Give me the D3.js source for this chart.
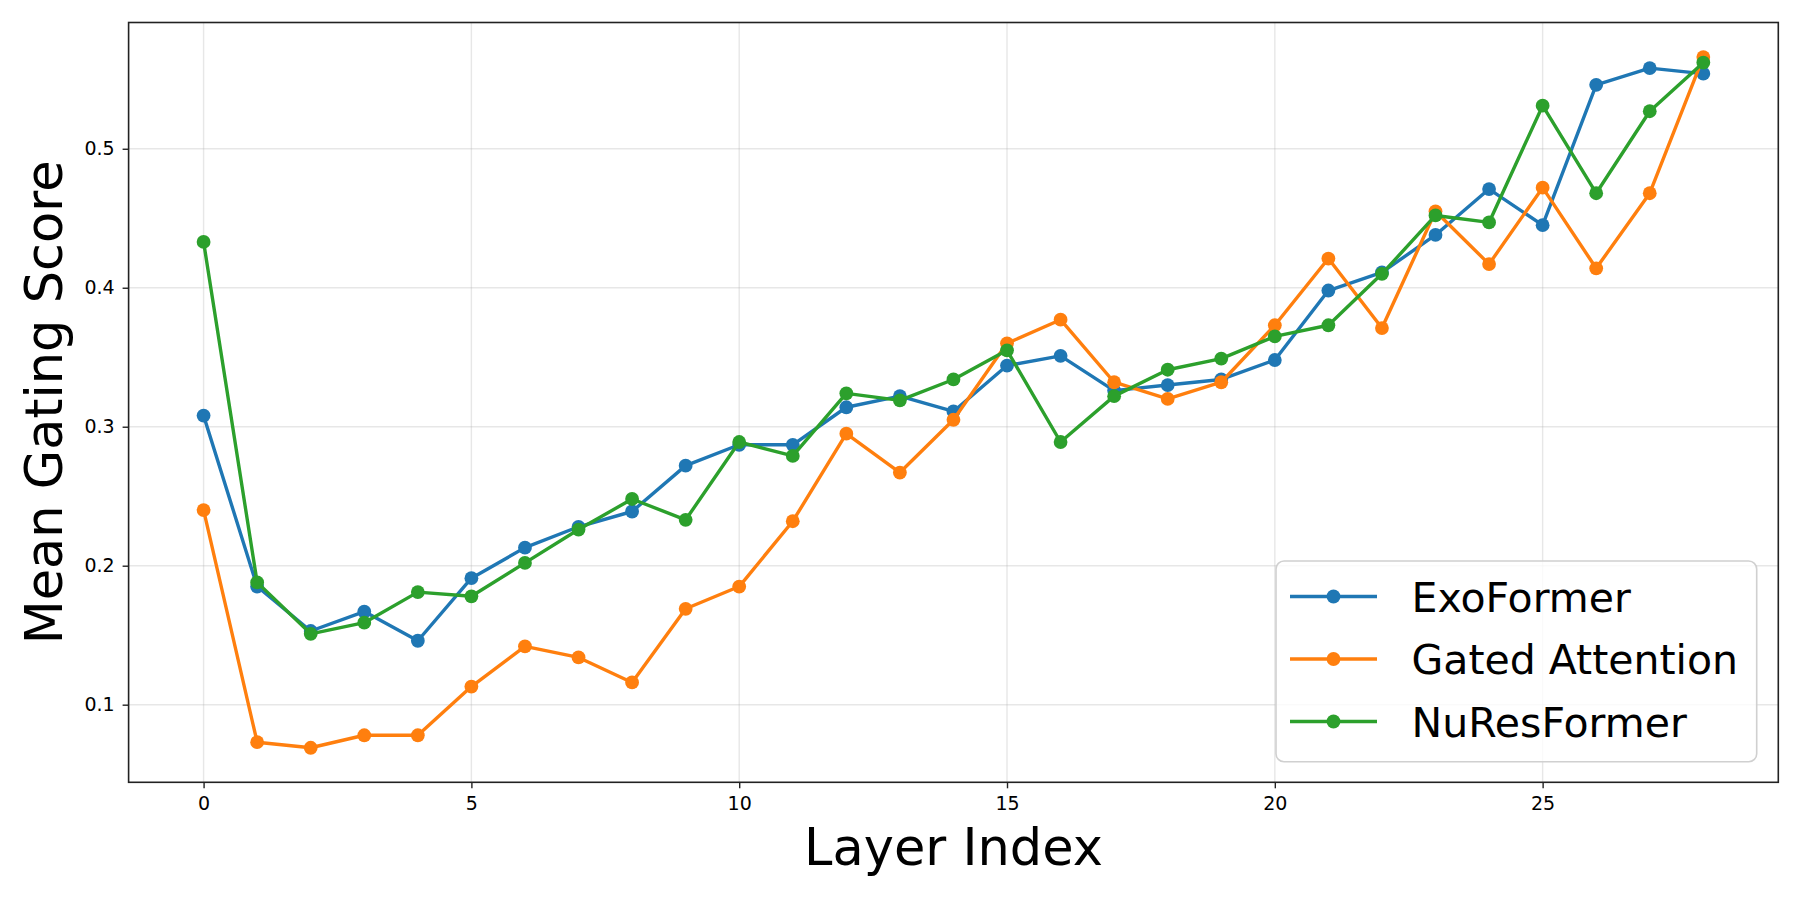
<!DOCTYPE html>
<html>
<head>
<meta charset="utf-8">
<script src="https://cdn.jsdelivr.net/npm/d3@7"></script>
<style>
  html, body { margin: 0; padding: 0; background: #fff; }
  svg { display: block; font-family: "DejaVu Sans", sans-serif; }
</style>
</head>
<body>
<svg id="chart" width="1800" height="900"></svg>
<script>
// ---- data ----
const layers = d3.range(0, 29);
const exoFormer = [0.308, 0.185, 0.153, 0.167, 0.146, 0.191, 0.213, 0.228, 0.239, 0.272,
                   0.287, 0.287, 0.314, 0.322, 0.311, 0.344, 0.351, 0.326, 0.330, 0.334,
                   0.348, 0.398, 0.411, 0.438, 0.471, 0.445, 0.546, 0.558, 0.554];
const gatedAttention = [0.240, 0.073, 0.069, 0.078, 0.078, 0.113, 0.142, 0.134, 0.116, 0.169,
                        0.185, 0.232, 0.295, 0.267, 0.305, 0.360, 0.377, 0.332, 0.320, 0.332,
                        0.373, 0.421, 0.371, 0.455, 0.417, 0.472, 0.414, 0.468, 0.566];
const nuResFormer = [0.433, 0.188, 0.151, 0.159, 0.181, 0.178, 0.202, 0.226, 0.248, 0.233,
                     0.289, 0.279, 0.324, 0.319, 0.334, 0.355, 0.289, 0.322, 0.341, 0.349,
                     0.365, 0.373, 0.410, 0.452, 0.447, 0.531, 0.468, 0.527, 0.562];
const seriesNames = ["ExoFormer", "Gated Attention", "NuResFormer"];
const seriesColors = ["#1f77b4", "#ff7f0e", "#2ca02c"];
const xTicks = [0, 5, 10, 15, 20, 25];
const yTicks = [0.1, 0.2, 0.3, 0.4, 0.5];
const xLabel = "Layer Index";
const yLabel = "Mean Gating Score";

const series = [exoFormer, gatedAttention, nuResFormer].map((vals, i) => ({
  name: seriesNames[i], color: seriesColors[i],
  points: vals.map((v, j) => ({ x: layers[j], y: v }))
}));

// ---- layout ----
const svg = d3.select("#chart");
const plot = { left: 128.6, right: 1778.3, top: 22.5, bottom: 782.3 };

const xMin = d3.min(layers), xMax = d3.max(layers);
const xPad = (xMax - xMin) * 0.05;
const allY = [].concat(exoFormer, gatedAttention, nuResFormer);
const yMin = d3.min(allY), yMax = d3.max(allY);
const yPad = (yMax - yMin) * 0.05;

const x = d3.scaleLinear().domain([xMin - xPad, xMax + xPad]).range([plot.left, plot.right]);
const y = d3.scaleLinear().domain([yMin - yPad, yMax + yPad]).range([plot.bottom, plot.top]);

// grid
const grid = svg.append("g");
grid.selectAll("line.gx").data(xTicks).join("line")
  .attr("x1", d => x(d)).attr("x2", d => x(d))
  .attr("y1", plot.top).attr("y2", plot.bottom)
  .attr("stroke", "#b0b0b0").attr("stroke-opacity", 0.3).attr("stroke-width", 1.4);
grid.selectAll("line.gy").data(yTicks).join("line")
  .attr("x1", plot.left).attr("x2", plot.right)
  .attr("y1", d => y(d)).attr("y2", d => y(d))
  .attr("stroke", "#b0b0b0").attr("stroke-opacity", 0.3).attr("stroke-width", 1.4);

// axes
const xAxis = d3.axisBottom(x).tickValues(xTicks).tickFormat(d3.format("d")).tickSize(6).tickPadding(8);
const yAxis = d3.axisLeft(y).tickValues(yTicks).tickFormat(d3.format(".1f")).tickSize(6).tickPadding(8);

const gx = svg.append("g").attr("transform", `translate(0,${plot.bottom})`).call(xAxis);
const gy = svg.append("g").attr("transform", `translate(${plot.left},0)`).call(yAxis);
[gx, gy].forEach(g => {
  g.select(".domain").remove();
  g.selectAll(".tick line").attr("stroke", "#222").attr("stroke-width", 1.4);
  g.selectAll(".tick text").attr("fill", "#000").attr("font-size", 19)
    .attr("font-family", "DejaVu Sans");
});

// lines
const clip = svg.append("clipPath").attr("id", "clip").append("rect")
  .attr("x", plot.left).attr("y", plot.top)
  .attr("width", plot.right - plot.left).attr("height", plot.bottom - plot.top);

const lineGen = d3.line().x(d => x(d.x)).y(d => y(d.y));
const sg = svg.append("g").attr("clip-path", "url(#clip)");
series.forEach(s => {
  const g = sg.append("g");
  g.append("path").datum(s.points).attr("d", lineGen)
    .attr("fill", "none").attr("stroke", s.color).attr("stroke-width", 3.4)
    .attr("stroke-linejoin", "round").attr("stroke-linecap", "square");
  g.selectAll("circle").data(s.points).join("circle")
    .attr("cx", d => x(d.x)).attr("cy", d => y(d.y)).attr("r", 6.9)
    .attr("fill", s.color);
});

// frame
svg.append("rect").attr("x", plot.left).attr("y", plot.top)
  .attr("width", plot.right - plot.left).attr("height", plot.bottom - plot.top)
  .attr("fill", "none").attr("stroke", "#222").attr("stroke-width", 1.6);

// axis labels
svg.append("text").attr("x", (plot.left + plot.right) / 2).attr("y", 865)
  .attr("text-anchor", "middle").attr("font-size", 51).attr("fill", "#000").text(xLabel);
svg.append("text").attr("transform", `translate(62,${(plot.top + plot.bottom) / 2}) rotate(-90)`)
  .attr("text-anchor", "middle").attr("font-size", 51).attr("fill", "#000").text(yLabel);

// legend
const lg = svg.append("g");
lg.append("rect").attr("x", 1276).attr("y", 561).attr("width", 480.7).attr("height", 200.7)
  .attr("rx", 8).attr("ry", 8)
  .attr("fill", "#fff").attr("fill-opacity", 0.8)
  .attr("stroke", "#d0d0d0").attr("stroke-width", 1.6);
series.forEach((s, i) => {
  const ry = 596.5 + i * 62.5;
  lg.append("line").attr("x1", 1290).attr("x2", 1377).attr("y1", ry).attr("y2", ry)
    .attr("stroke", s.color).attr("stroke-width", 3.4);
  lg.append("circle").attr("cx", 1333.5).attr("cy", ry).attr("r", 6.9).attr("fill", s.color);
  lg.append("text").attr("x", 1411.5).attr("y", ry + 15).attr("font-size", 41)
    .attr("fill", "#000").text(s.name);
});
</script>
</body>
</html>
